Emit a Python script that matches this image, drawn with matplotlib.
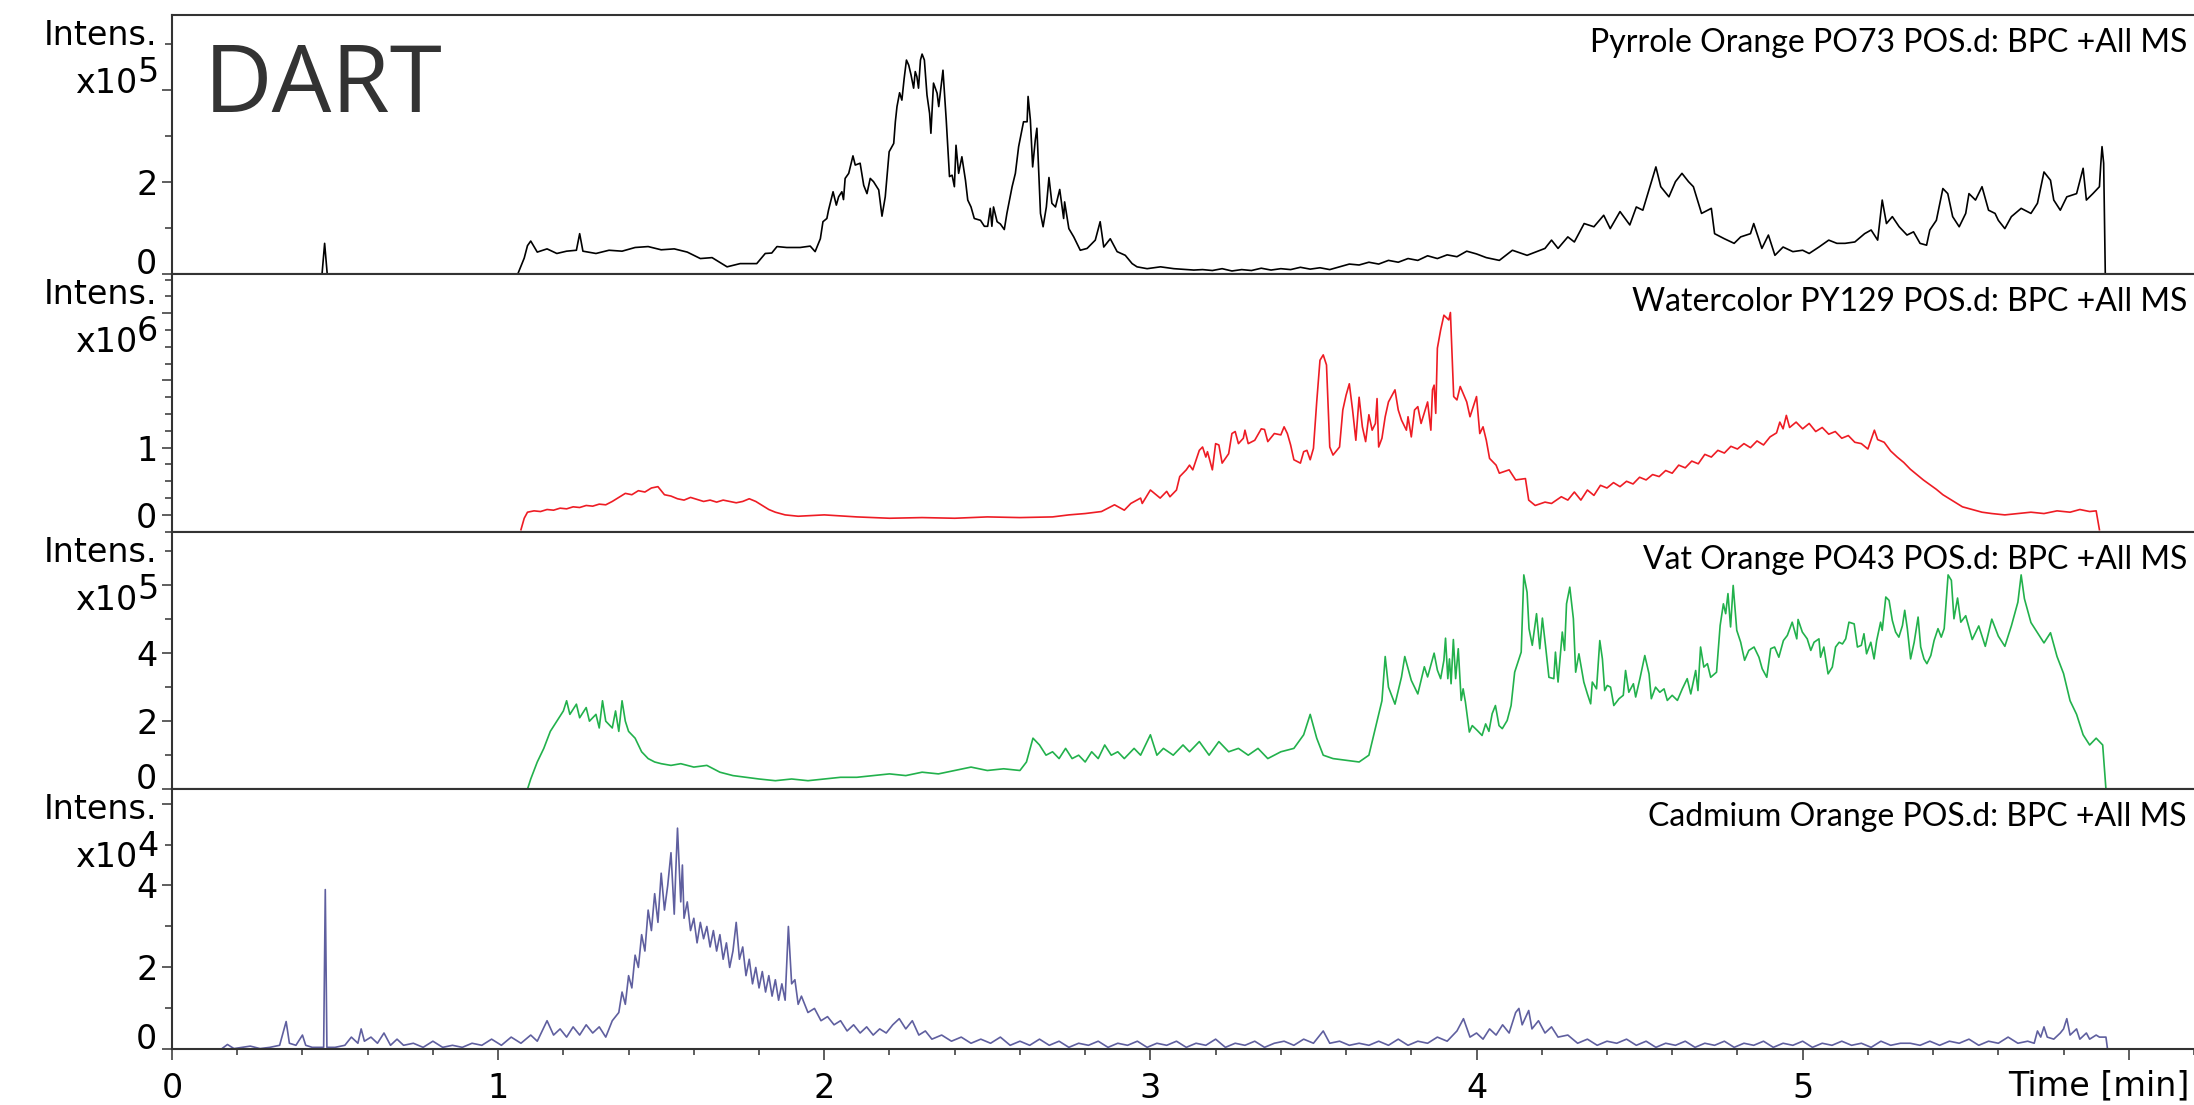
import matplotlib
matplotlib.use("Agg")
import matplotlib.pyplot as plt
from matplotlib.ticker import FixedLocator, FixedFormatter, MultipleLocator

# ------------------------------------------------------------
# data, (time [min], intensity)
# ------------------------------------------------------------
# Pyrrole Orange PO73, intensity x1e5
po73 = [(0.00, 0.00), (0.46, 0.00), (0.468, 0.67), (0.476, 0.00), (1.06, 0.00), (1.08, 0.35),
        (1.09, 0.62), (1.10, 0.72), (1.12, 0.48), (1.15, 0.55), (1.18, 0.45), (1.21, 0.50),
        (1.24, 0.52), (1.25, 0.88), (1.26, 0.50), (1.30, 0.45), (1.34, 0.52), (1.38, 0.50),
        (1.42, 0.58), (1.46, 0.60), (1.50, 0.53), (1.54, 0.55), (1.58, 0.48), (1.620, 0.34),
        (1.656, 0.36), (1.702, 0.16), (1.742, 0.23), (1.793, 0.23), (1.819, 0.45), (1.839, 0.46),
        (1.855, 0.60), (1.885, 0.58), (1.926, 0.58), (1.957, 0.61), (1.972, 0.49), (1.988, 0.77),
        (1.996, 1.14), (2.008, 1.21), (2.013, 1.39), (2.027, 1.79), (2.037, 1.50), (2.044, 1.68),
        (2.054, 1.79), (2.059, 1.62), (2.064, 2.08), (2.075, 2.19), (2.088, 2.57), (2.095, 2.37),
        (2.110, 2.41), (2.121, 1.93), (2.131, 1.75), (2.141, 2.08), (2.151, 2.01), (2.167, 1.83),
        (2.177, 1.26), (2.187, 1.68), (2.199, 2.66), (2.213, 2.84), (2.218, 3.31), (2.223, 3.64),
        (2.231, 3.94), (2.238, 3.78), (2.245, 4.25), (2.252, 4.65), (2.259, 4.54), (2.266, 4.33),
        (2.274, 4.04), (2.279, 4.40), (2.284, 4.29), (2.289, 4.04), (2.295, 4.65), (2.300, 4.78),
        (2.307, 4.65), (2.315, 3.89), (2.323, 3.49), (2.327, 3.06), (2.335, 4.15), (2.346, 3.93),
        (2.351, 3.64), (2.364, 4.43), (2.374, 3.35), (2.384, 2.12), (2.392, 2.15), (2.399, 1.90),
        (2.404, 2.80), (2.412, 2.19), (2.422, 2.55), (2.433, 2.04), (2.440, 1.61), (2.450, 1.46),
        (2.460, 1.21), (2.479, 1.17), (2.491, 1.04), (2.501, 1.04), (2.509, 1.43), (2.514, 1.04),
        (2.519, 1.46), (2.530, 1.14), (2.540, 1.09), (2.552, 0.97), (2.560, 1.32), (2.576, 1.90),
        (2.586, 2.19), (2.596, 2.77), (2.603, 3.02), (2.611, 3.31), (2.622, 3.31), (2.625, 3.86),
        (2.632, 3.35), (2.639, 2.33), (2.647, 2.91), (2.652, 3.17), (2.663, 1.32), (2.671, 1.03),
        (2.681, 1.46), (2.689, 2.10), (2.698, 1.54), (2.709, 1.46), (2.722, 1.84), (2.734, 1.21),
        (2.737, 1.57), (2.750, 0.99), (2.765, 0.81), (2.785, 0.52), (2.806, 0.56), (2.821, 0.67),
        (2.831, 0.74), (2.846, 1.14), (2.857, 0.59), (2.877, 0.77), (2.898, 0.49), (2.923, 0.41),
        (2.944, 0.23), (2.959, 0.16), (2.990, 0.12), (3.031, 0.16), (3.072, 0.12), (3.133, 0.09),
        (3.16, 0.10), (3.19, 0.08), (3.22, 0.12), (3.25, 0.07), (3.28, 0.10), (3.31, 0.08),
        (3.34, 0.13), (3.37, 0.09), (3.40, 0.12), (3.43, 0.10), (3.46, 0.15), (3.49, 0.11),
        (3.52, 0.14), (3.55, 0.10), (3.58, 0.16), (3.61, 0.22), (3.64, 0.20), (3.67, 0.26),
        (3.70, 0.22), (3.73, 0.30), (3.76, 0.26), (3.79, 0.34), (3.82, 0.30), (3.85, 0.40),
        (3.88, 0.34), (3.91, 0.42), (3.94, 0.38), (3.97, 0.50), (4.00, 0.44), (4.03, 0.36),
        (4.07, 0.30), (4.11, 0.52), (4.155, 0.41), (4.21, 0.56), (4.23, 0.74), (4.25, 0.56),
        (4.28, 0.81), (4.30, 0.70), (4.33, 1.10), (4.36, 1.03), (4.39, 1.28), (4.41, 0.99),
        (4.44, 1.36), (4.47, 1.07), (4.49, 1.46), (4.51, 1.39), (4.53, 1.86), (4.55, 2.33),
        (4.565, 1.90), (4.59, 1.68), (4.61, 2.01), (4.63, 2.19), (4.65, 2.01), (4.665, 1.90),
        (4.69, 1.32), (4.72, 1.43), (4.73, 0.88), (4.76, 0.77), (4.79, 0.67), (4.81, 0.81),
        (4.84, 0.88), (4.85, 1.10), (4.875, 0.56), (4.895, 0.85), (4.915, 0.41), (4.94, 0.59),
        (4.97, 0.49), (5.00, 0.52), (5.02, 0.45), (5.05, 0.59), (5.08, 0.74), (5.105, 0.67),
        (5.13, 0.67), (5.16, 0.70), (5.19, 0.88), (5.21, 0.96), (5.23, 0.74), (5.244, 1.61),
        (5.257, 1.10), (5.275, 1.25), (5.296, 1.03), (5.32, 0.85), (5.34, 0.92), (5.36, 0.67),
        (5.38, 0.63), (5.39, 0.96), (5.41, 1.17), (5.43, 1.86), (5.445, 1.75), (5.46, 1.25),
        (5.48, 1.03), (5.50, 1.32), (5.51, 1.75), (5.53, 1.61), (5.55, 1.90), (5.57, 1.39),
        (5.59, 1.32), (5.60, 1.17), (5.62, 0.99), (5.64, 1.25), (5.67, 1.43), (5.70, 1.32),
        (5.72, 1.54), (5.74, 2.22), (5.76, 2.04), (5.77, 1.61), (5.79, 1.39), (5.81, 1.68),
        (5.84, 1.75), (5.86, 2.30), (5.87, 1.61), (5.89, 1.75), (5.91, 1.90), (5.914, 2.37),
        (5.918, 2.77), (5.923, 2.41), (5.928, 0.00)]

# Watercolor PY129, intensity x1e6
py129 = [(1.07, -0.22), (1.08, -0.05), (1.09, 0.04), (1.11, 0.06), (1.13, 0.05), (1.15, 0.08),
         (1.17, 0.07), (1.19, 0.10), (1.21, 0.09), (1.23, 0.12), (1.25, 0.11), (1.27, 0.14),
         (1.29, 0.13), (1.31, 0.16), (1.33, 0.15), (1.35, 0.20), (1.37, 0.26), (1.39, 0.32),
         (1.41, 0.30), (1.43, 0.36), (1.45, 0.34), (1.47, 0.40), (1.49, 0.42), (1.51, 0.30),
         (1.53, 0.28), (1.55, 0.24), (1.57, 0.22), (1.59, 0.26), (1.61, 0.23), (1.63, 0.20),
         (1.65, 0.22), (1.67, 0.19), (1.69, 0.22), (1.71, 0.20), (1.73, 0.18), (1.75, 0.20),
         (1.77, 0.24), (1.79, 0.20), (1.81, 0.14), (1.83, 0.08), (1.85, 0.04), (1.88, 0.00),
         (1.92, -0.02), (2.00, 0.00), (2.10, -0.03), (2.20, -0.05), (2.30, -0.04), (2.40, -0.05),
         (2.50, -0.03), (2.60, -0.04), (2.70, -0.03), (2.75, 0.00), (2.80, 0.02), (2.85, 0.05),
         (2.89, 0.15), (2.92, 0.07), (2.94, 0.17), (2.97, 0.25), (2.975, 0.17), (3.00, 0.37),
         (3.03, 0.25), (3.05, 0.35), (3.06, 0.27), (3.08, 0.37), (3.09, 0.57), (3.11, 0.67),
         (3.12, 0.74), (3.13, 0.67), (3.15, 0.96), (3.16, 1.01), (3.17, 0.86), (3.175, 0.94),
         (3.19, 0.67), (3.20, 1.06), (3.21, 1.04), (3.22, 0.77), (3.24, 0.91), (3.25, 1.21),
         (3.26, 1.24), (3.27, 1.06), (3.285, 1.14), (3.29, 1.26), (3.30, 1.06), (3.32, 1.11),
         (3.34, 1.28), (3.35, 1.27), (3.36, 1.09), (3.38, 1.21), (3.40, 1.19), (3.41, 1.31),
         (3.42, 1.21), (3.43, 1.04), (3.44, 0.82), (3.46, 0.77), (3.47, 0.94), (3.48, 0.96),
         (3.49, 0.82), (3.50, 0.99), (3.51, 1.68), (3.52, 2.30), (3.53, 2.38), (3.54, 2.23),
         (3.55, 1.01), (3.56, 0.89), (3.58, 1.01), (3.59, 1.56), (3.60, 1.78), (3.61, 1.95),
         (3.62, 1.56), (3.63, 1.11), (3.64, 1.75), (3.65, 1.31), (3.66, 1.09), (3.67, 1.49),
         (3.68, 1.26), (3.69, 1.36), (3.695, 1.73), (3.70, 1.01), (3.71, 1.14), (3.72, 1.46),
         (3.73, 1.68), (3.75, 1.86), (3.76, 1.56), (3.77, 1.41), (3.785, 1.26), (3.79, 1.46),
         (3.80, 1.16), (3.81, 1.56), (3.82, 1.61), (3.83, 1.36), (3.85, 1.68), (3.86, 1.26),
         (3.865, 1.86), (3.87, 1.93), (3.875, 1.51), (3.88, 2.48), (3.89, 2.75), (3.90, 2.97),
         (3.915, 2.90), (3.92, 3.01), (3.93, 1.76), (3.94, 1.71), (3.95, 1.91), (3.97, 1.68),
         (3.98, 1.46), (4.00, 1.76), (4.01, 1.21), (4.02, 1.31), (4.03, 1.11), (4.04, 0.84),
         (4.06, 0.74), (4.07, 0.62), (4.10, 0.67), (4.12, 0.52), (4.15, 0.54), (4.16, 0.22),
         (4.18, 0.14), (4.21, 0.19), (4.23, 0.17), (4.26, 0.27), (4.28, 0.22), (4.30, 0.34),
         (4.32, 0.22), (4.34, 0.37), (4.36, 0.29), (4.38, 0.44), (4.40, 0.40), (4.42, 0.48),
         (4.44, 0.42), (4.46, 0.50), (4.48, 0.46), (4.50, 0.56), (4.52, 0.52), (4.54, 0.60),
         (4.56, 0.57), (4.58, 0.66), (4.60, 0.62), (4.62, 0.74), (4.64, 0.70), (4.66, 0.80),
         (4.68, 0.76), (4.70, 0.90), (4.72, 0.86), (4.74, 0.96), (4.76, 0.92), (4.78, 1.02),
         (4.80, 0.98), (4.82, 1.06), (4.84, 1.00), (4.86, 1.10), (4.88, 1.04), (4.90, 1.16),
         (4.92, 1.22), (4.93, 1.38), (4.94, 1.28), (4.95, 1.48), (4.96, 1.30), (4.98, 1.38),
         (5.00, 1.28), (5.02, 1.36), (5.04, 1.24), (5.06, 1.30), (5.08, 1.20), (5.10, 1.24),
         (5.12, 1.14), (5.14, 1.18), (5.16, 1.08), (5.18, 1.06), (5.20, 0.98), (5.21, 1.12),
         (5.22, 1.26), (5.23, 1.12), (5.25, 1.08), (5.27, 0.95), (5.29, 0.86), (5.31, 0.78),
         (5.33, 0.68), (5.35, 0.60), (5.37, 0.52), (5.39, 0.45), (5.41, 0.38), (5.43, 0.30),
         (5.45, 0.24), (5.47, 0.18), (5.49, 0.12), (5.52, 0.08), (5.55, 0.04), (5.58, 0.02),
         (5.62, 0.00), (5.66, 0.02), (5.70, 0.04), (5.74, 0.02), (5.78, 0.06), (5.82, 0.04),
         (5.85, 0.08), (5.88, 0.05), (5.90, 0.06), (5.91, -0.22)]

# Vat Orange PO43, intensity x1e5
po43 = [(1.09, 0.00), (1.10, 0.30), (1.12, 0.80), (1.14, 1.20), (1.16, 1.70), (1.18, 2.00),
        (1.20, 2.30), (1.21, 2.60), (1.22, 2.20), (1.24, 2.50), (1.25, 2.10), (1.27, 2.40),
        (1.28, 2.00), (1.30, 2.20), (1.31, 1.80), (1.32, 2.60), (1.33, 2.00), (1.35, 1.80),
        (1.36, 2.30), (1.37, 1.70), (1.38, 2.60), (1.39, 2.00), (1.40, 1.70), (1.42, 1.50),
        (1.44, 1.10), (1.46, 0.90), (1.48, 0.80), (1.50, 0.75), (1.53, 0.70), (1.56, 0.75),
        (1.60, 0.65), (1.64, 0.70), (1.68, 0.50), (1.72, 0.40), (1.76, 0.35), (1.80, 0.30),
        (1.85, 0.25), (1.90, 0.30), (1.95, 0.25), (2.00, 0.30), (2.05, 0.35), (2.10, 0.35),
        (2.15, 0.40), (2.20, 0.45), (2.25, 0.40), (2.30, 0.50), (2.35, 0.45), (2.40, 0.55),
        (2.45, 0.65), (2.50, 0.55), (2.55, 0.60), (2.60, 0.55), (2.62, 0.80), (2.64, 1.50),
        (2.66, 1.30), (2.68, 1.00), (2.70, 1.10), (2.72, 0.90), (2.74, 1.20), (2.76, 0.90),
        (2.78, 1.00), (2.80, 0.80), (2.82, 1.10), (2.84, 0.90), (2.86, 1.30), (2.88, 1.00),
        (2.90, 1.10), (2.92, 0.90), (2.95, 1.20), (2.97, 1.00), (3.00, 1.60), (3.02, 1.00),
        (3.04, 1.20), (3.07, 1.00), (3.10, 1.30), (3.12, 1.10), (3.15, 1.40), (3.18, 1.00),
        (3.21, 1.40), (3.24, 1.10), (3.27, 1.20), (3.30, 1.00), (3.33, 1.20), (3.36, 0.90),
        (3.40, 1.10), (3.44, 1.20), (3.47, 1.60), (3.49, 2.20), (3.51, 1.50), (3.53, 1.00),
        (3.56, 0.90), (3.60, 0.85), (3.64, 0.80), (3.67, 1.00), (3.69, 1.80), (3.71, 2.60),
        (3.72, 3.90), (3.73, 3.00), (3.75, 2.50), (3.77, 3.30), (3.78, 3.90), (3.80, 3.20),
        (3.82, 2.80), (3.84, 3.60), (3.85, 3.30), (3.87, 4.00), (3.88, 3.50), (3.890, 3.25),
        (3.900, 3.79), (3.905, 4.44), (3.912, 3.25), (3.917, 3.83), (3.922, 3.10), (3.929, 4.40),
        (3.936, 3.25), (3.944, 4.13), (3.953, 2.61), (3.959, 2.95), (3.966, 2.56), (3.978, 1.68),
        (3.987, 1.87), (4.002, 1.73), (4.017, 1.58), (4.028, 1.92), (4.038, 1.70), (4.048, 2.22),
        (4.058, 2.46), (4.069, 1.87), (4.079, 1.78), (4.094, 2.02), (4.106, 2.46), (4.117, 3.44),
        (4.130, 3.83), (4.137, 4.03), (4.145, 6.30), (4.155, 5.79), (4.161, 4.72), (4.171, 4.23),
        (4.184, 5.16), (4.194, 4.13), (4.202, 5.03), (4.212, 4.18), (4.222, 3.29), (4.237, 3.25),
        (4.242, 4.03), (4.250, 3.15), (4.263, 4.62), (4.270, 4.08), (4.276, 5.45), (4.286, 5.94),
        (4.297, 5.01), (4.304, 3.44), (4.314, 3.98), (4.329, 3.15), (4.340, 2.80), (4.350, 2.51),
        (4.355, 3.15), (4.368, 2.95), (4.378, 4.37), (4.386, 3.83), (4.393, 2.90), (4.401, 3.05),
        (4.411, 3.00), (4.421, 2.46), (4.437, 2.66), (4.450, 2.76), (4.457, 3.49), (4.467, 2.85),
        (4.481, 3.10), (4.488, 2.71), (4.501, 3.25), (4.516, 3.93), (4.529, 3.39), (4.536, 2.66),
        (4.549, 3.00), (4.562, 2.85), (4.575, 2.95), (4.585, 2.61), (4.600, 2.76), (4.616, 2.61),
        (4.631, 2.95), (4.646, 3.25), (4.657, 2.80), (4.672, 3.49), (4.679, 2.90), (4.687, 4.18),
        (4.697, 3.59), (4.708, 3.69), (4.718, 3.29), (4.736, 3.44), (4.747, 4.81), (4.757, 5.45),
        (4.764, 5.16), (4.771, 5.75), (4.779, 4.77), (4.787, 5.99), (4.798, 4.67), (4.810, 4.32),
        (4.822, 3.79), (4.835, 4.08), (4.851, 4.18), (4.866, 3.88), (4.876, 3.54), (4.890, 3.29),
        (4.902, 4.13), (4.914, 4.18), (4.927, 3.88), (4.941, 4.37), (4.953, 4.52), (4.968, 4.91),
        (4.982, 4.42), (4.986, 4.99), (4.999, 4.62), (5.014, 4.42), (5.025, 4.08), (5.035, 4.32),
        (5.050, 4.42), (5.055, 3.88), (5.065, 4.18), (5.078, 3.39), (5.091, 3.59), (5.101, 4.18),
        (5.112, 4.32), (5.122, 4.27), (5.132, 4.42), (5.142, 4.91), (5.158, 4.86), (5.168, 4.18),
        (5.180, 4.23), (5.188, 4.57), (5.196, 3.98), (5.209, 4.32), (5.219, 3.83), (5.227, 4.37),
        (5.239, 4.91), (5.244, 4.67), (5.255, 5.65), (5.265, 5.55), (5.275, 4.96), (5.285, 4.62),
        (5.295, 4.47), (5.306, 4.81), (5.313, 5.26), (5.321, 4.72), (5.331, 3.83), (5.342, 4.32),
        (5.354, 5.06), (5.362, 4.18), (5.372, 3.83), (5.381, 3.69), (5.393, 3.93), (5.403, 4.37),
        (5.415, 4.72), (5.425, 4.47), (5.434, 4.72), (5.446, 6.30), (5.456, 6.14), (5.464, 5.01),
        (5.475, 5.62), (5.485, 4.91), (5.50, 5.10), (5.52, 4.40), (5.54, 4.80), (5.56, 4.20),
        (5.58, 5.00), (5.60, 4.50), (5.62, 4.20), (5.64, 4.80), (5.66, 5.50), (5.67, 6.30),
        (5.68, 5.60), (5.70, 4.90), (5.72, 4.60), (5.74, 4.30), (5.76, 4.60), (5.78, 3.90),
        (5.80, 3.40), (5.82, 2.60), (5.84, 2.20), (5.86, 1.60), (5.88, 1.30), (5.90, 1.50),
        (5.92, 1.30), (5.93, 0.00)]

# Cadmium Orange, intensity x1e4
cdo = [(0.00, 0.00), (0.15, 0.00), (0.17, 0.12), (0.19, 0.02), (0.24, 0.08), (0.27, 0.02),
       (0.30, 0.05), (0.33, 0.10), (0.35, 0.68), (0.36, 0.15), (0.38, 0.10), (0.40, 0.35),
       (0.41, 0.10), (0.43, 0.05), (0.465, 0.05), (0.47, 3.90), (0.475, 0.05), (0.50, 0.05),
       (0.53, 0.10), (0.55, 0.30), (0.57, 0.15), (0.58, 0.50), (0.59, 0.20), (0.61, 0.30),
       (0.63, 0.15), (0.65, 0.40), (0.67, 0.10), (0.69, 0.25), (0.71, 0.10), (0.74, 0.15),
       (0.77, 0.05), (0.80, 0.20), (0.83, 0.05), (0.86, 0.10), (0.89, 0.05), (0.92, 0.15),
       (0.95, 0.10), (0.98, 0.25), (1.01, 0.10), (1.04, 0.30), (1.07, 0.15), (1.10, 0.35),
       (1.12, 0.20), (1.15, 0.70), (1.17, 0.35), (1.19, 0.50), (1.21, 0.30), (1.23, 0.55),
       (1.25, 0.35), (1.27, 0.60), (1.29, 0.40), (1.31, 0.55), (1.33, 0.30), (1.35, 0.70),
       (1.37, 0.90), (1.38, 1.40), (1.39, 1.10), (1.40, 1.80), (1.41, 1.50), (1.42, 2.30),
       (1.43, 2.00), (1.44, 2.80), (1.45, 2.40), (1.46, 3.40), (1.47, 2.90), (1.48, 3.80),
       (1.49, 3.10), (1.50, 4.30), (1.51, 3.40), (1.52, 4.00), (1.53, 4.80), (1.54, 3.30),
       (1.545, 4.40), (1.55, 5.40), (1.56, 3.60), (1.565, 4.50), (1.57, 3.20), (1.58, 3.60),
       (1.59, 2.90), (1.60, 3.20), (1.61, 2.60), (1.62, 3.10), (1.63, 2.70), (1.64, 3.00),
       (1.65, 2.50), (1.66, 2.90), (1.67, 2.40), (1.68, 2.80), (1.69, 2.20), (1.70, 2.60),
       (1.71, 2.00), (1.72, 2.40), (1.73, 3.10), (1.74, 2.20), (1.75, 2.50), (1.76, 1.80),
       (1.77, 2.20), (1.78, 1.60), (1.79, 2.00), (1.80, 1.50), (1.81, 1.90), (1.82, 1.40),
       (1.83, 1.80), (1.84, 1.30), (1.85, 1.70), (1.86, 1.20), (1.87, 1.60), (1.88, 1.20),
       (1.89, 3.00), (1.90, 1.60), (1.91, 1.70), (1.92, 1.10), (1.93, 1.30), (1.95, 0.90),
       (1.97, 1.00), (1.99, 0.70), (2.01, 0.80), (2.03, 0.60), (2.05, 0.70), (2.07, 0.45),
       (2.09, 0.60), (2.11, 0.40), (2.13, 0.55), (2.15, 0.35), (2.17, 0.50), (2.19, 0.40),
       (2.21, 0.60), (2.23, 0.75), (2.25, 0.50), (2.27, 0.70), (2.29, 0.35), (2.31, 0.45),
       (2.33, 0.25), (2.36, 0.35), (2.39, 0.20), (2.42, 0.30), (2.45, 0.15), (2.48, 0.25),
       (2.51, 0.15), (2.54, 0.30), (2.57, 0.10), (2.60, 0.20), (2.63, 0.10), (2.66, 0.25),
       (2.69, 0.10), (2.72, 0.20), (2.75, 0.05), (2.78, 0.15), (2.81, 0.10), (2.84, 0.20),
       (2.87, 0.05), (2.90, 0.15), (2.93, 0.10), (2.96, 0.20), (2.99, 0.05), (3.02, 0.15),
       (3.05, 0.10), (3.08, 0.20), (3.11, 0.05), (3.14, 0.15), (3.17, 0.10), (3.20, 0.25),
       (3.23, 0.05), (3.26, 0.15), (3.29, 0.10), (3.32, 0.20), (3.35, 0.05), (3.38, 0.15),
       (3.41, 0.20), (3.44, 0.10), (3.47, 0.25), (3.50, 0.15), (3.53, 0.45), (3.55, 0.15),
       (3.58, 0.20), (3.61, 0.10), (3.64, 0.15), (3.67, 0.10), (3.70, 0.20), (3.73, 0.10),
       (3.76, 0.25), (3.79, 0.10), (3.82, 0.20), (3.85, 0.15), (3.88, 0.30), (3.91, 0.20),
       (3.94, 0.45), (3.96, 0.75), (3.98, 0.30), (4.00, 0.40), (4.02, 0.25), (4.04, 0.50),
       (4.06, 0.35), (4.08, 0.60), (4.10, 0.40), (4.12, 0.90), (4.13, 1.00), (4.14, 0.60),
       (4.16, 0.95), (4.17, 0.50), (4.19, 0.70), (4.21, 0.40), (4.23, 0.55), (4.25, 0.30),
       (4.28, 0.35), (4.31, 0.15), (4.34, 0.25), (4.37, 0.10), (4.40, 0.20), (4.43, 0.15),
       (4.46, 0.25), (4.49, 0.10), (4.52, 0.20), (4.55, 0.05), (4.58, 0.15), (4.61, 0.10),
       (4.64, 0.20), (4.67, 0.05), (4.70, 0.15), (4.73, 0.10), (4.76, 0.20), (4.79, 0.05),
       (4.82, 0.15), (4.85, 0.10), (4.88, 0.20), (4.91, 0.05), (4.94, 0.15), (4.97, 0.10),
       (5.00, 0.20), (5.03, 0.05), (5.06, 0.15), (5.09, 0.10), (5.12, 0.20), (5.15, 0.10),
       (5.18, 0.15), (5.21, 0.05), (5.24, 0.20), (5.27, 0.10), (5.30, 0.15), (5.33, 0.15),
       (5.36, 0.10), (5.39, 0.20), (5.42, 0.10), (5.45, 0.20), (5.48, 0.15), (5.51, 0.25),
       (5.54, 0.10), (5.57, 0.20), (5.60, 0.15), (5.63, 0.30), (5.66, 0.15), (5.69, 0.20),
       (5.71, 0.15), (5.72, 0.45), (5.73, 0.30), (5.74, 0.55), (5.75, 0.30), (5.77, 0.25),
       (5.79, 0.40), (5.80, 0.50), (5.81, 0.75), (5.82, 0.35), (5.84, 0.50), (5.85, 0.25),
       (5.87, 0.40), (5.88, 0.25), (5.90, 0.35), (5.91, 0.30), (5.93, 0.30), (5.935, 0.00),
       (6.20, 0.00)]

titles = ["Pyrrole Orange PO73 POS.d: BPC +All MS",
          "Watercolor PY129 POS.d: BPC +All MS",
          "Vat Orange PO43 POS.d: BPC +All MS",
          "Cadmium Orange POS.d: BPC +All MS"]
exponents = ["5", "6", "5", "4"]
colors = ["#000000", "#ee1c24", "#22b14c", "#5f5f9f"]
ylims = [(0, 5.62), (-0.25, 3.58), (0, 7.57), (0, 6.35)]
yticks_major = [[0, 2, 4], [0, 1, 2, 3], [0, 2, 4, 6], [0, 2, 4, 6]]
yticks_minor = [[1, 3, 5], [x * 0.25 for x in range(-1, 15)], [1, 3, 5, 7], [1, 3, 5]]
ytick_labels = [["0", "2", ""], ["0", "1", "", ""], ["0", "2", "4", ""], ["0", "2", "4", ""]]
series = [po73, py129, po43, cdo]

# ------------------------------------------------------------
# layout (pixels of a 2194 x 1105 figure)
# ------------------------------------------------------------
W, H = 2194, 1105
fig = plt.figure(figsize=(W / 100, H / 100), dpi=100)
edges = [15.4, 274.2, 531.7, 789.2, 1049.4]
x0 = 172
spine_c = "#333333"
label_font = "DejaVu Sans"

for k in range(4):
    top, bot = edges[k], edges[k + 1]
    ax = fig.add_axes([x0 / W, 1 - bot / H, (W - x0) / W, (bot - top) / H])
    t = [p[0] for p in series[k]]
    v = [p[1] for p in series[k]]
    ax.plot(t, v, color=colors[k], lw=1.2)
    ax.set_xlim(0, 6.2)
    ax.set_ylim(*ylims[k])

    for s in ["left", "top", "bottom"]:
        ax.spines[s].set_color(spine_c)
        ax.spines[s].set_linewidth(1.5)
    ax.spines["right"].set_visible(False)

    ax.yaxis.set_major_locator(FixedLocator(yticks_major[k]))
    ax.yaxis.set_minor_locator(FixedLocator(yticks_minor[k]))
    ax.yaxis.set_major_formatter(FixedFormatter(ytick_labels[k]))
    ax.tick_params(axis="y", which="major", length=7.5, width=1.1, color=spine_c,
                   labelsize=24, pad=3)
    ax.tick_params(axis="y", which="minor", length=5, width=1.1, color=spine_c)
    if ylims[k][0] == 0:
        # zero sits on the frame, so its label rests on the tick
        ax.get_yticklabels()[0].set_va("baseline")

    if k < 3:
        ax.tick_params(axis="x", which="both", bottom=False, labelbottom=False)
    else:
        ax.xaxis.set_major_locator(MultipleLocator(1))
        ax.xaxis.set_minor_locator(MultipleLocator(0.2))
        ax.xaxis.set_major_formatter(plt.FuncFormatter(lambda x, p: "" if x > 5.5 else "%d" % round(x)))
        ax.tick_params(axis="x", which="major", length=8, width=1.1, color=spine_c,
                       labelsize=24, pad=8)
        ax.tick_params(axis="x", which="minor", length=4.5, width=1.1, color=spine_c)

    # title at the top right of each trace
    fig.text(2187 / W, 1 - (top + 37) / H, titles[k], ha="right", va="baseline",
             fontsize=23, family="Lato")
    # intensity labels on the left
    fig.text(157 / W, 1 - (top + 30) / H, "Intens.", ha="right", va="baseline",
             fontsize=24, family=label_font)
    fig.text(137 / W, 1 - (top + 78) / H, "x10", ha="right", va="baseline",
             fontsize=24, family=label_font)
    fig.text(137 / W, 1 - (top + 67) / H, exponents[k], ha="left", va="baseline",
             fontsize=24, family=label_font)

fig.text(204 / W, 1 - 112 / H, "DART", ha="left", va="baseline",
         fontsize=68, family="Open Sans", color="#333333")
fig.text(2190 / W, 1 - 1095 / H, "Time [min]", ha="right", va="baseline",
         fontsize=24, family=label_font)

fig.savefig("out.png", dpi=100)
